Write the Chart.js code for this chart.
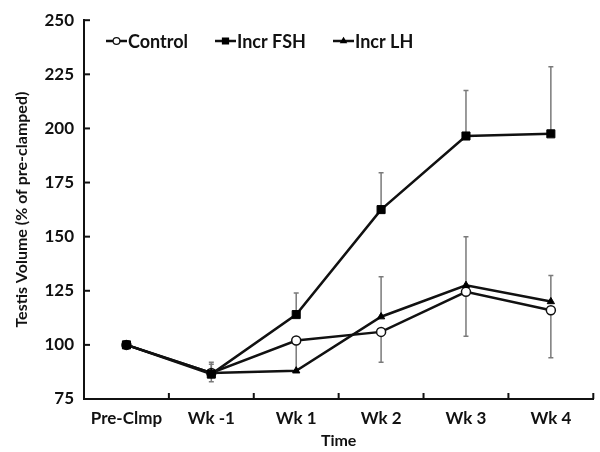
<!DOCTYPE html>
<html><head><meta charset="utf-8">
<script src="https://cdn.jsdelivr.net/npm/chart.js@4/dist/chart.umd.min.js"></script>
<style>html,body{margin:0;padding:0;background:#fff}#wrap{width:600px;height:452px}</style>
</head><body><div id="wrap"><canvas id="c" width="600" height="452"></canvas></div>
<script>
const categories = ['Pre-Clmp', 'Wk -1', 'Wk 1', 'Wk 2', 'Wk 3', 'Wk 4'];
const controlValues = [100, 87, 102, 106, 124.5, 116];
const fshValues = [100, 86.5, 114, 162.5, 196.5, 197.5];
const lhValues = [100, 87, 88, 113, 127.5, 120];
const controlErrLow = [null, 83, 88, 92, 104, 94];
const fshErrHigh = [null, 91, 124, 179.5, 217.5, 228.5];
const lhErrHigh = [null, 92, null, 131.5, 150, 132];
const yTicks = [75, 100, 125, 150, 175, 200, 225, 250];

const FONT = 'Lato, "Open Sans", sans-serif';
const TXT = '#111';

const errorBars = {
  id: 'errorBars',
  beforeDatasetsDraw(chart) {
    const ctx = chart.ctx, x = chart.scales.x, y = chart.scales.y;
    const sets = [controlErrLow, fshErrHigh, lhErrHigh];
    const base = [controlValues, fshValues, lhValues];
    ctx.save();
    ctx.strokeStyle = '#7a7a7a';
    ctx.lineWidth = 1.5;
    sets.forEach((arr, s) => {
      arr.forEach((v, i) => {
        if (v === null) return;
        const px = x.getPixelForValue(i);
        const y0 = y.getPixelForValue(base[s][i]);
        const y1 = y.getPixelForValue(v);
        ctx.beginPath();
        ctx.moveTo(px, y0); ctx.lineTo(px, y1);
        ctx.moveTo(px - 2.5, y1); ctx.lineTo(px + 2.5, y1);
        ctx.stroke();
      });
    });
    ctx.restore();
  }
};

const axesTicks = {
  id: 'axesTicks',
  afterDraw(chart) {
    const ctx = chart.ctx, x = chart.scales.x, y = chart.scales.y;
    const a = chart.chartArea;
    ctx.save();
    ctx.strokeStyle = '#111';
    ctx.lineWidth = 2;
    yTicks.forEach(v => {
      const py = y.getPixelForValue(v);
      ctx.beginPath(); ctx.moveTo(a.left, py); ctx.lineTo(a.left + 6, py); ctx.stroke();
    });
    const half = (x.getPixelForValue(1) - x.getPixelForValue(0)) / 2;
    for (let i = 0; i < categories.length; i++) {
      const px = x.getPixelForValue(i) + half;
      ctx.beginPath(); ctx.moveTo(px, a.bottom); ctx.lineTo(px, a.bottom - 6); ctx.stroke();
    }
    const items = [
      {label: 'Control', ds: 0, x: 106},
      {label: 'Incr FSH', ds: 1, x: 215},
      {label: 'Incr LH', ds: 2, x: 333}
    ];
    const ly = 41;
    items.forEach(it => {
      const ds = chart.data.datasets[it.ds];
      ctx.strokeStyle = '#111'; ctx.lineWidth = 2.5;
      ctx.beginPath(); ctx.moveTo(it.x, ly); ctx.lineTo(it.x + 21, ly); ctx.stroke();
      ctx.fillStyle = ds.pointBackgroundColor;
      ctx.strokeStyle = ds.pointBorderColor;
      ctx.lineWidth = 1.2;
      Chart.helpers.drawPoint(ctx, {
        pointStyle: ds.pointStyle, radius: ds.pointRadius * 0.75, borderWidth: 1.2, rotation: 0
      }, it.x + 10.5, ly);
      ctx.fillStyle = TXT;
      ctx.font = 'bold 18px ' + FONT;
      ctx.textBaseline = 'middle';
      ctx.textAlign = 'left';
      ctx.fillText(it.label, it.x + 22, ly + 1);
    });
    ctx.restore();
  }
};

new Chart(document.getElementById('c'), {
  type: 'line',
  data: {
    labels: categories,
    datasets: [
      {label: 'Control', data: controlValues, order: 2, borderColor: '#111', borderWidth: 2.5,
       pointStyle: 'circle', pointRadius: 4.5, pointBackgroundColor: '#fff', pointBorderColor: '#111', pointBorderWidth: 1.5, tension: 0},
      {label: 'Incr FSH', data: fshValues, order: 0, borderColor: '#111', borderWidth: 2.5,
       pointStyle: 'rect', pointRadius: 5.7, pointBackgroundColor: '#000', pointBorderColor: '#000', pointBorderWidth: 1, tension: 0},
      {label: 'Incr LH', data: lhValues, order: 1, borderColor: '#111', borderWidth: 2.5,
       pointStyle: 'triangle', pointRadius: 4.2, pointBackgroundColor: '#000', pointBorderColor: '#000', pointBorderWidth: 1, tension: 0}
    ]
  },
  options: {
    responsive: false,
    animation: false,
    layout: {padding: {top: 20, right: 3, left: 0, bottom: 0}},
    plugins: {legend: {display: false}, tooltip: {enabled: false}},
    scales: {
      x: {
        offset: true,
        grid: {display: false, drawTicks: false},
        border: {display: true, color: '#111', width: 2},
        ticks: {color: TXT, font: {family: FONT, size: 17, weight: 'bold'}, padding: 9, maxRotation: 0, autoSkip: false},
        title: {display: true, text: 'Time', color: TXT, font: {family: FONT, size: 16, weight: 'bold'}, padding: {top: 0, bottom: 2}},
        afterFit(s) { s.height = 53; }
      },
      y: {
        min: 75, max: 250,
        afterBuildTicks(s) { s.ticks = yTicks.map(v => ({value: v})); },
        grid: {display: false, drawTicks: false},
        border: {display: true, color: '#111', width: 2},
        ticks: {color: TXT, font: {family: FONT, size: 17, weight: 'bold'}, padding: 10},
        title: {display: true, text: 'Testis Volume (% of pre-clamped)', color: TXT, font: {family: FONT, size: 16, weight: 'bold'}, padding: {top: 12, bottom: 0}},
        afterFit(s) { s.width = 84; }
      }
    }
  },
  plugins: [errorBars, axesTicks]
});
</script></body></html>
